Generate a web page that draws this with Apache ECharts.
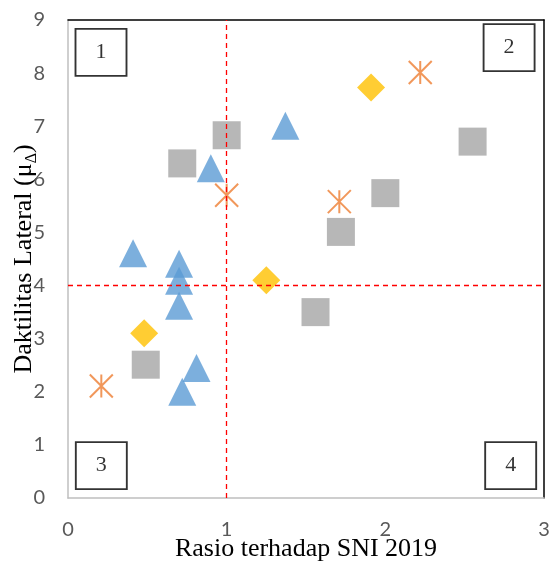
<!DOCTYPE html>
<html>
<head>
<meta charset="utf-8">
<script src="https://cdn.jsdelivr.net/npm/echarts@6/dist/echarts.min.js"></script>
<style>html,body{margin:0;padding:0;background:#fff}#c{width:551px;height:564px}</style>
</head>
<body>
<div id="c"></div>
<script>
// Data
const triangles = [[0.41,4.61],[0.70,4.41],[0.70,4.09],[0.70,3.62],[0.90,6.21],[1.37,7.01],[0.81,2.45],[0.72,2.00]];
const squares = [[0.72,6.30],[1.00,6.83],[2.55,6.71],[2.00,5.74],[1.72,5.01],[1.56,3.50],[0.49,2.51]];
const stars = [[1.00,5.70],[2.22,8.01],[1.71,5.58],[0.21,2.11]];
const diamonds = [[1.91,7.73],[0.48,3.10],[1.25,4.10]];
const quadLabels = [[0.208,8.39,'1'],[2.78,8.48,'2'],[0.21,0.61,'3'],[2.79,0.61,'4']];
const thresholdX = 1;
const thresholdY = 4;
const xTicks = [0,1,2,3];
const yTicks = [0,1,2,3,4,5,6,7,8,9];

const chart = echarts.init(document.getElementById('c'));
const tickStyle = {color:'#595959', fontSize:20, fontFamily:'Lato'};
chart.setOption({
  animation:false,
  grid:{left:68, right:7, top:20, bottom:66, containLabel:false, outerBoundsMode:'none'},
  xAxis:[{
    type:'value', min:xTicks[0], max:xTicks[xTicks.length-1], interval:1,
    splitLine:{show:false}, axisTick:{show:false},
    axisLine:{show:true, onZero:false, lineStyle:{color:'#bfbfbf', width:1.5}},
    axisLabel:Object.assign({margin:22}, tickStyle),
    name:'Rasio terhadap SNI 2019', nameLocation:'middle', nameGap:38, nameMoveOverlap:false,
    nameTextStyle:{fontFamily:'Liberation Serif', fontSize:26, color:'#000'}
  },{
    type:'value', position:'top', min:0, max:3, show:true,
    splitLine:{show:false}, axisTick:{show:false}, axisLabel:{show:false},
    axisLine:{show:true, onZero:false, lineStyle:{color:'#000', width:1.5}}
  }],
  yAxis:[{
    type:'value', min:yTicks[0], max:yTicks[yTicks.length-1], interval:1,
    splitLine:{show:false}, axisTick:{show:false},
    axisLine:{show:true, onZero:false, lineStyle:{color:'#bfbfbf', width:1.5}},
    axisLabel:Object.assign({margin:23}, tickStyle),
    name:'Daktilitas Lateral (μ{sub|Δ})', nameLocation:'middle', nameGap:31, nameRotate:90, nameMoveOverlap:false,
    nameTextStyle:{fontFamily:'Liberation Serif', fontSize:26, color:'#000',
      rich:{sub:{fontFamily:'Liberation Serif', fontSize:16, lineHeight:16, padding:[15,0,0,0], color:'#000'}}}
  },{
    type:'value', position:'right', min:0, max:9, show:true,
    splitLine:{show:false}, axisTick:{show:false}, axisLabel:{show:false},
    axisLine:{show:true, onZero:false, lineStyle:{color:'#000', width:1.5}}
  }],
  series:[
    {type:'scatter', data:quadLabels, symbol:'rect', symbolSize:[51,47], z:1,
     itemStyle:{color:'#fff', borderColor:'#000', borderWidth:1.8},
     label:{show:true, position:'inside', formatter:p=>p.data[2], fontFamily:'Liberation Serif', fontSize:22, color:'#000'},
     silent:true},
    {type:'scatter', data:triangles, symbol:'triangle', symbolSize:[28,28], itemStyle:{color:'#5b9bd5'}, z:2},
    {type:'scatter', data:squares, symbol:'rect', symbolSize:[28,28], itemStyle:{color:'#a5a5a5'}, z:2},
    {type:'scatter', data:stars, symbol:'path://M0,0L24,24M24,0L0,24M12,0L12,24', symbolSize:[23,23],
     itemStyle:{color:'rgba(0,0,0,0)', borderColor:'#ed7d31', borderWidth:2}, z:2},
    {type:'scatter', data:diamonds, symbol:'diamond', symbolSize:[28,28], itemStyle:{color:'#ffc000'}, z:2},
    {type:'line', data:[], z:5, silent:true,
     markLine:{silent:true, symbol:'none', label:{show:false},
       lineStyle:{color:'#ff0000', type:[5,4], width:1.3},
       data:[{xAxis:thresholdX},{yAxis:thresholdY}]}}
  ]
});
</script>
</body>
</html>
